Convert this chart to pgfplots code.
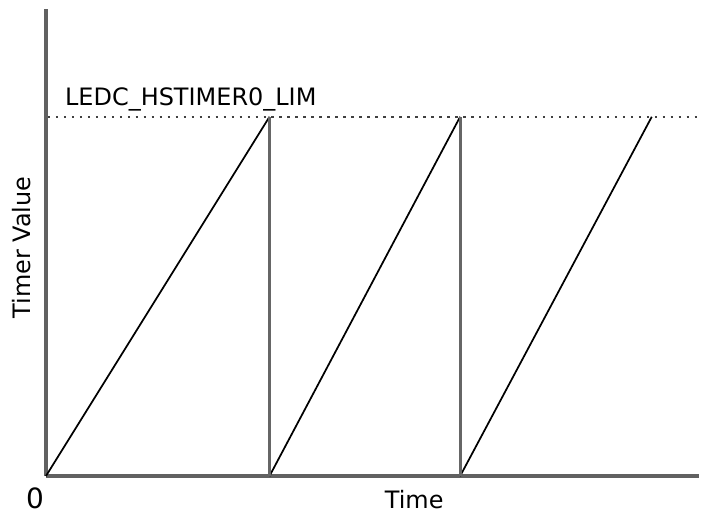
\documentclass[border=0pt]{standalone}
\usepackage{pgfplots}
\pgfplotsset{compat=1.18}
\usepackage{fontspec}
\setmainfont{DejaVu Sans}
\begin{document}
\begin{tikzpicture}[x=0.75pt,y=0.75pt]
\begin{axis}[
    x=0.75pt, y=0.75pt,
    xmin=0, xmax=654, ymin=0, ymax=468,
    axis lines=left,
    axis line style={-, line width=3.5pt, color=black!62},
    xtick=\empty, ytick=\empty,
    clip=false,
    font=\fontsize{18}{21}\selectfont,
]
% ramps of the counter
\addplot[black, line width=1.3pt] coordinates {(0,0) (224,360)};
\addplot[black, line width=1.3pt] coordinates {(224,0) (415,360)};
\addplot[black, line width=1.3pt] coordinates {(415,0) (607,360)};
% resets
\addplot[black!60, line width=2.3pt] coordinates {(224,0) (224,360)};
\addplot[black!60, line width=2.3pt] coordinates {(415,0) (415,360)};
% limit
\addplot[black!75, line width=1.8pt, dash pattern=on 1.8pt off 4.2pt] coordinates {(2,360) (654,360)};
\node[anchor=base west, inner sep=0pt] at (axis cs:19,371) {LEDC\_HSTIMER0\_LIM};
\node[inner sep=0pt, font=\fontsize{21}{24}\selectfont] at (axis cs:-11,-22) {0};
\node[inner sep=0pt] at (axis cs:369,-24) {Time};
\node[inner sep=0pt, rotate=90] at (axis cs:-24,229) {Timer Value};
\coordinate (bl) at (axis cs:-46,-37);
\coordinate (tr) at (axis cs:655,477);
\end{axis}
\useasboundingbox (bl) rectangle (tr);
\end{tikzpicture}
\end{document}
